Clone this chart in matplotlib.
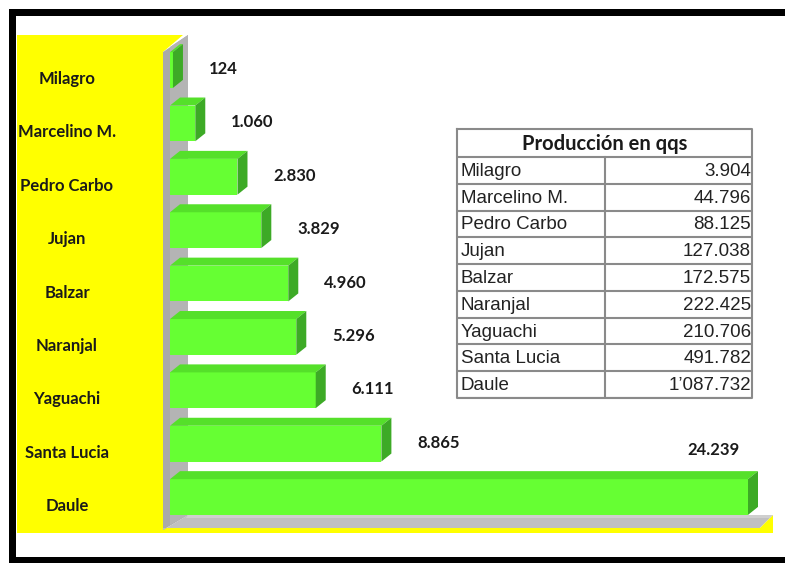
import matplotlib
matplotlib.use('Agg')
from matplotlib import pyplot as plt
from matplotlib.patches import Polygon, Rectangle

# data
cantones = ['Milagro', 'Marcelino M.', 'Pedro Carbo', 'Jujan', 'Balzar',
            'Naranjal', 'Yaguachi', 'Santa Lucia', 'Daule']
valores = [124, 1060, 2830, 3829, 4960, 5296, 6111, 8865, 24239]
etiquetas = ['124', '1.060', '2.830', '3.829', '4.960', '5.296', '6.111', '8.865', '24.239']
tabla_titulo = 'Producción en qqs'
tabla_valores = ['3.904', '44.796', '88.125', '127.038', '172.575', '222.425',
                 '210.706', '491.782', '1\u2019087.732']

W, H = 785, 563
fig = plt.figure(figsize=(W / 100, H / 100), dpi=100)
fig.patch.set_facecolor('white')


def pf(x, y):
    return (x / W, 1 - y / H)


def fpoly(pts, color, z=-2):
    fig.add_artist(Polygon([pf(*p) for p in pts], closed=True, facecolor=color,
                           edgecolor='none', transform=fig.transFigure, zorder=z))


# yellow panel + floor strip
fpoly([(17, 35), (183, 35), (163, 52), (163, 533), (17, 533)], '#FFFF00')
fpoly([(163, 528), (773, 528), (773, 533), (163, 533)], '#FFFF00')
# gray wall
fpoly([(163, 52), (188, 35), (188, 515), (163, 530)], '#A9A9A9')
fpoly([(170, 47), (188, 35), (188, 515), (170, 525)], '#B4B4B4')
# floor
fpoly([(163, 530), (188, 515), (773, 515), (760, 528), (163, 528)], '#C0C0C0')
fpoly([(773, 515), (773, 530), (758, 530)], '#FFFF00')
fpoly([(188, 515), (773, 515), (770, 518), (186, 518)], '#CFCFCF')

# black frame
for (x0, y0, x1, y1) in [(9, 9, 785, 16), (9, 9, 16, 563), (9, 557, 785, 563)]:
    fig.add_artist(Rectangle(pf(x0, y1), (x1 - x0) / W, (y1 - y0) / H,
                             facecolor='black', edgecolor='none',
                             transform=fig.transFigure, zorder=5))

# bars
ax = fig.add_axes([170 / W, 1 - 533 / H, 610 / W, 498 / H])
xmax = 24239 * 610 / 578
ax.set_xlim(0, xmax)
ax.set_ylim(8.674, -0.656)
ax.axis('off')
ax.patch.set_alpha(0)

dx = 10 * xmax / 610
dy = 8 * 9.33 / 498
h = 0.67
ys = list(range(len(cantones)))

ax.barh(ys, valores, height=h, color='#66FF33', edgecolor='none', zorder=3)
for y, v in zip(ys, valores):
    top = y - h / 2
    bot = y + h / 2
    ax.add_patch(Polygon([(0, top), (v, top), (v + dx, top - dy), (dx, top - dy)],
                         facecolor='#55E02A', edgecolor='none', zorder=3))
    ax.add_patch(Polygon([(v, top), (v + dx, top - dy), (v + dx, bot - dy), (v, bot)],
                         facecolor='#3DAA26', edgecolor='none', zorder=3))

lab_font = dict(family=['Lato', 'DejaVu Sans'], fontweight='bold', fontsize=12, color='#1a1a1a')
for y, v, t in zip(ys[:-1], valores[:-1], etiquetas[:-1]):
    ax.annotate(t, xy=(v, y), xytext=(36, 1), textcoords='offset pixels',
                ha='left', va='center', **lab_font)
ax.annotate(etiquetas[-1], xy=(valores[-1], ys[-1]), xytext=(-8, 47),
            textcoords='offset pixels', ha='right', va='center', **lab_font)

# category names in the yellow panel
for y, c in zip(ys, cantones):
    ax.annotate(c, xy=(0, y), xytext=(-103, -9), textcoords='offset pixels',
                ha='center', va='center', family=['Lato', 'DejaVu Sans'],
                fontweight='bold', fontsize=12, color='#1a1a1a',
                annotation_clip=False)

# table
tx = fig.add_axes([457 / W, 1 - 398 / H, (752 - 457) / W, (398 - 129) / H])
tw, th = 295, 269
tx.set_xlim(0, tw)
tx.set_ylim(th, 0)
tx.axis('off')
hh = 28
rh = (th - hh) / len(cantones)
lc = '#8a8a8a'
tx.plot([0, tw, tw, 0, 0], [0, 0, th, th, 0], color=lc, lw=1.5, clip_on=False)
tx.plot([148, 148], [hh, th], color=lc, lw=1.5)
for i in range(len(cantones) + 1):
    yy = hh + i * rh
    tx.plot([0, tw], [yy, yy], color=lc, lw=1.5)
tx.text(tw / 2, hh / 2 + 1, tabla_titulo, ha='center', va='center',
        family=['Lato', 'DejaVu Sans'], fontweight='bold', fontsize=14.5, color='#1a1a1a')
for i, (c, v) in enumerate(zip(cantones, tabla_valores)):
    yc = hh + (i + 0.5) * rh + 1
    tx.text(4, yc, c, ha='left', va='center', family='Liberation Sans',
            fontsize=13.5, color='#222222')
    tx.text(tw - 1, yc, v, ha='right', va='center', family='Liberation Sans',
            fontsize=13.5, color='#222222')

fig.savefig('out.png', dpi=100)
